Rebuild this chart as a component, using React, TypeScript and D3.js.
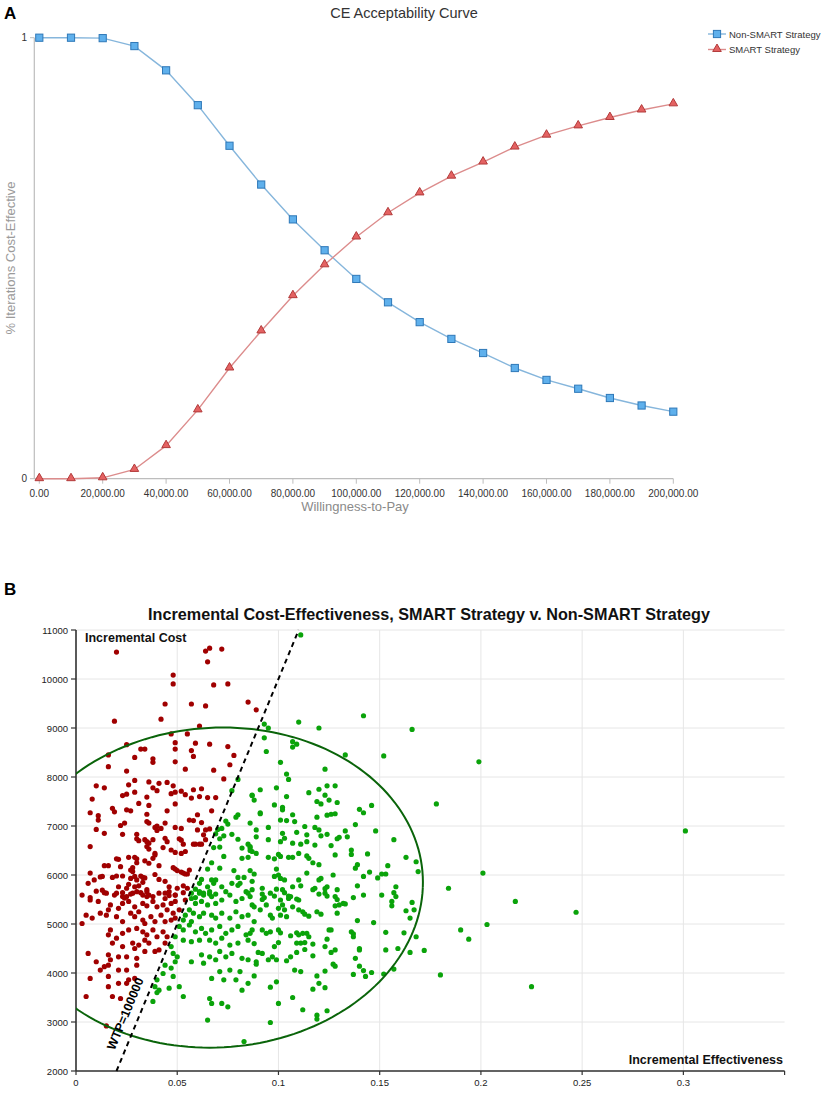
import React from 'react';
import * as d3 from 'd3';

// ---------- Panel A data ----------
const WTP_VALUES = [0, 10000, 20000, 30000, 40000, 50000, 60000, 70000, 80000, 90000, 100000, 110000, 120000, 130000, 140000, 150000, 160000, 170000, 180000, 190000, 200000];
const NON_SMART = [1.0, 1.0, 0.999, 0.981, 0.926, 0.847, 0.755, 0.667, 0.588, 0.518, 0.453, 0.400, 0.355, 0.317, 0.285, 0.251, 0.224, 0.204, 0.183, 0.166, 0.152];
const SMART = [0.0, 0.0, 0.002, 0.021, 0.075, 0.156, 0.251, 0.335, 0.415, 0.485, 0.548, 0.603, 0.648, 0.686, 0.718, 0.752, 0.779, 0.800, 0.819, 0.836, 0.850];
const X_TICKS_A = [0, 20000, 40000, 60000, 80000, 100000, 120000, 140000, 160000, 180000, 200000];
const Y_TICKS_A = [0, 1];
const SERIES_NAMES = ['Non-SMART Strategy', 'SMART Strategy'];

// ---------- Panel B data ----------
const X_TICKS_B = [0, 0.05, 0.1, 0.15, 0.2, 0.25, 0.3];
const Y_TICKS_B = [2000, 3000, 4000, 5000, 6000, 7000, 8000, 9000, 10000, 11000];
const WTP_THRESHOLD = 100000;
const ELLIPSE_CENTER = [0.0693, 5743];
const ELLIPSE_RADII = [0.102, 3267];
const ELLIPSE_SKEW = 0.0033;

const RED_POINTS: [number, number][] = [
  [0.020,10550],[0.019,9140],[0.042,9180],[0.044,9490],[0.048,10080],[0.048,9900],[0.047,8880],[0.055,8880],[0.057,9490],[0.061,9040],[0.064,9450],[0.064,10570],[0.066,10630],[0.065,10350],[0.068,9880],[0.072,10610],[0.075,9900],[0.085,9530],[0.089,9370],
  [0.016,8450],[0.068,8140],[0.073,7960],
  [0.025,8660],[0.032,8570],[0.034,8570],[0.029,8400],[0.038,8370],[0.038,8300],[0.016,8210],[0.025,8120],[0.049,8700],[0.049,8570],[0.049,8310],[0.054,8160],[0.057,8540],[0.058,8420],[0.059,8690],[0.066,8670],[0.075,8620],[0.078,8440],[0.076,8250],
  [0.010,7820],[0.014,7780],[0.026,7840],[0.029,7930],[0.036,7900],[0.038,7780],[0.041,7870],[0.045,7890],[0.048,7820],[0.049,7690],[0.047,7660],[0.040,7720],[0.035,7590],[0.029,7690],[0.025,7650],[0.023,7620],[0.008,7550],[0.007,7270],[0.011,7210],[0.011,7120],[0.018,7360],[0.019,7290],[0.025,7330],[0.027,7310],[0.031,7460],[0.035,7240],[0.036,7420],[0.045,7310],[0.049,7450],[0.052,7710],[0.054,7640],[0.057,7570],[0.058,7740],[0.062,7760],[0.061,7600],[0.065,7580],[0.067,7310],[0.069,7580],
  [0.010,6930],[0.022,7010],[0.024,7060],[0.035,7090],[0.036,7060],[0.039,6970],[0.040,7000],[0.040,6910],[0.042,6950],[0.044,7060],[0.049,6970],[0.052,6950],[0.056,7120],[0.058,7110],[0.060,7230],[0.062,7070],[0.060,6920],[0.064,6920],[0.066,6940],[0.014,6850],[0.023,6830],[0.030,6830],[0.030,6740],[0.031,6700],[0.034,6720],[0.035,6680],[0.036,6650],[0.038,6720],[0.044,6750],[0.045,6680],[0.043,6560],[0.051,6740],[0.052,6710],[0.053,6630],[0.047,6510],[0.049,6460],[0.052,6440],[0.054,6480],[0.058,6630],[0.059,6630],[0.061,6630],[0.062,6630],[0.064,6720],[0.063,6820],
  [0.007,6580],[0.035,6580],[0.036,6530],[0.039,6440],[0.038,6340],[0.039,6410],[0.041,6190],[0.036,6240],[0.034,6290],[0.029,6360],[0.030,6330],[0.030,6250],[0.026,6360],[0.020,6330],[0.021,6320],[0.014,6190],[0.016,6190],[0.022,6170],[0.028,6150],[0.028,6070],[0.029,5970],[0.030,5900],[0.027,5930],[0.027,6100],[0.032,5980],[0.033,5950],[0.034,5940],[0.033,5850],[0.031,5780],[0.029,5760],[0.026,5810],[0.025,5730],[0.023,5980],[0.020,5980],[0.018,5950],[0.021,5760],[0.019,5590],[0.012,5960],[0.013,5970],[0.009,5900],[0.007,6040],[0.006,5830],[0.003,5590],[0.007,5540],[0.014,5640],[0.015,5630],[0.023,5560],[0.024,5530],[0.027,5610],[0.028,5630],[0.032,5640],[0.035,5700],[0.035,5560],[0.036,5590],[0.039,6010],[0.041,5910],[0.044,5870],[0.046,5760],[0.048,6150],[0.049,6120],[0.050,6090],[0.052,6060],[0.053,6040],[0.054,6020],[0.056,6100],[0.055,6020],[0.044,5630],[0.046,5580],[0.049,5590],[0.050,5730],[0.053,5780],[0.055,5730],
  [0.010,5670],[0.013,5690],[0.020,5630],[0.023,5640],[0.025,5560],[0.030,5660],[0.033,5590],[0.035,5660],[0.038,5560],[0.041,5630],[0.044,5520],[0.046,5660],[0.049,5590],[0.053,5640],[0.007,5490],[0.011,5460],[0.017,5390],[0.016,5290],[0.021,5320],[0.023,5420],[0.026,5460],[0.029,5350],[0.033,5420],[0.035,5370],[0.038,5460],[0.040,5350],[0.043,5390],[0.045,5290],[0.047,5420],[0.049,5460],[0.054,5490],[0.051,5290],[0.048,5220],[0.049,5120],
  [0.003,5010],[0.005,5180],[0.008,5120],[0.012,5220],[0.015,5180],[0.020,5150],[0.023,5050],[0.027,5220],[0.029,5150],[0.031,5250],[0.033,5080],[0.034,5010],[0.037,5150],[0.039,5050],[0.042,5180],[0.044,5050],[0.047,5080],
  [0.017,4880],[0.016,4780],[0.020,4710],[0.023,4810],[0.026,4880],[0.030,4910],[0.033,4840],[0.035,4780],[0.038,4880],[0.040,4740],[0.043,4840],[0.045,4740],[0.044,4610],[0.018,4610],[0.023,4540],[0.028,4610],[0.029,4500],[0.031,4570],[0.034,4670],[0.036,4610],[0.039,4440],[0.041,4470],
  [0.006,4400],[0.010,4230],[0.016,4370],[0.017,4270],[0.021,4330],[0.025,4330],[0.030,4300],[0.030,4160],[0.034,4440],[0.012,4060],[0.014,4130],[0.016,4160],[0.021,4060],[0.016,3930],[0.025,4060],[0.026,3860],[0.029,3890],[0.007,3890],[0.005,3520],[0.016,3720],[0.021,3790],[0.018,3520],[0.022,3480],[0.025,3790],[0.015,2920],
];

const GREEN_POINTS: [number, number][] = [
  [0.080,7230],[0.079,7180],[0.070,6930],[0.072,6950],[0.074,7100],[0.075,7040],[0.069,6840],[0.071,6740],[0.073,6800],[0.077,6830],[0.080,6730],[0.082,6550],[0.085,6630],[0.086,6550],[0.068,6560],[0.071,6570],[0.073,6380],[0.082,6340],[0.087,6480],[0.085,6360],[0.067,6250],[0.065,6120],[0.071,6140],[0.078,6090],[0.086,6090],[0.083,5950],[0.080,5950],[0.077,5830],[0.080,5790],[0.067,5900],[0.069,5900],[0.068,5830],[0.062,5910],[0.061,5830],[0.065,5760],[0.059,5710],[0.061,5630],[0.063,5590],[0.066,5610],[0.069,5610],[0.072,5760],[0.074,5660],[0.081,5830],[0.084,5660],[0.086,5560],[0.057,5630],[0.059,5540],[0.077,7720],[0.080,7950],[0.087,7630],
  [0.061,5660],[0.063,5630],[0.066,5660],[0.067,5560],[0.057,5520],[0.059,5420],[0.062,5460],[0.065,5390],[0.069,5420],[0.072,5490],[0.076,5590],[0.079,5460],[0.082,5520],[0.085,5630],[0.087,5390],[0.056,5290],[0.058,5220],[0.054,5180],[0.053,5080],[0.057,5050],[0.061,5150],[0.063,5220],[0.067,5180],[0.069,5120],[0.072,5220],[0.076,5120],[0.079,5250],[0.082,5150],[0.085,5180],
  [0.051,4950],[0.053,4880],[0.056,4980],[0.059,4840],[0.062,4910],[0.064,4810],[0.067,4880],[0.071,4950],[0.074,4810],[0.077,4880],[0.080,4950],[0.084,4780],[0.087,4880],[0.049,4740],[0.053,4670],[0.057,4640],[0.061,4670],[0.066,4670],[0.069,4610],[0.072,4710],[0.076,4570],[0.080,4610],[0.085,4670],[0.047,4540],[0.048,4400],[0.050,4330],[0.057,4230],[0.062,4370],[0.066,4330],[0.069,4270],[0.071,4440],[0.074,4330],[0.077,4400],[0.082,4300],[0.085,4270],[0.049,4230],[0.044,4160],[0.047,4100],[0.043,3990],[0.040,3860],[0.039,3720],[0.041,3650],[0.046,3690],[0.048,3930],[0.051,3720],[0.053,3520],[0.063,4200],[0.071,4030],[0.076,4060],[0.081,4030],[0.067,3890],[0.073,3860],[0.079,3860],[0.085,3790],[0.082,3650],[0.066,3480],[0.067,3380],[0.072,3380],[0.075,3310],[0.038,3420],[0.065,3040],[0.083,2600],[0.040,3600],
  [0.107,8720],[0.109,8670],[0.107,8610],[0.094,8520],[0.133,8450],[0.152,8430],[0.101,8300],[0.123,8160],[0.104,8060],[0.105,7950],[0.091,7740],[0.099,7780],[0.087,7620],[0.088,7530],[0.104,7600],[0.115,7680],[0.120,7750],[0.124,7820],[0.128,7820],[0.123,7630],[0.125,7530],[0.119,7500],[0.121,7450],[0.129,7480],[0.098,7430],[0.102,7380],[0.102,7330],[0.091,7270],[0.091,7250],[0.107,7230],[0.104,7110],[0.101,7120],[0.108,7090],[0.119,7180],[0.124,7220],[0.126,7240],[0.128,7250],[0.140,7340],[0.142,7270],[0.146,7420],
  [0.086,7060],[0.095,6970],[0.089,6920],[0.089,6780],[0.102,6850],[0.109,6870],[0.113,6990],[0.118,6970],[0.120,6920],[0.114,6820],[0.124,6830],[0.121,6800],[0.129,6740],[0.130,6770],[0.133,6900],[0.134,6780],[0.138,7030],[0.148,6900],[0.157,6720],[0.095,6720],[0.101,6680],[0.103,6750],[0.107,6650],[0.111,6630],[0.114,6680],[0.118,6610],[0.126,6600],[0.086,6580],[0.086,6500],[0.089,6440],[0.095,6360],[0.098,6330],[0.100,6420],[0.101,6380],[0.105,6360],[0.107,6360],[0.110,6440],[0.114,6390],[0.115,6340],[0.120,6210],[0.117,6250],[0.128,6410],[0.136,6510],[0.136,6420],[0.144,6430],[0.163,6360],[0.168,6270],[0.139,6210],[0.138,6140],[0.154,6190],
  [0.088,6020],[0.087,5870],[0.098,5970],[0.099,6120],[0.100,6000],[0.101,5930],[0.103,5900],[0.110,5900],[0.114,6040],[0.120,5900],[0.121,5930],[0.124,5760],[0.123,5720],[0.127,6000],[0.142,5970],[0.145,6060],[0.149,5940],[0.151,6020],[0.153,6020],[0.169,6070],[0.092,5730],[0.099,5710],[0.102,5700],[0.107,5760],[0.111,5780],[0.117,5700],[0.118,5730],[0.123,5630],[0.129,5700],[0.139,5780],[0.158,5760],[0.087,5700],[0.092,5610],[0.096,5630],[0.098,5570],[0.103,5640],[0.105,5570],[0.106,5560],[0.109,5510],[0.120,5610],[0.128,5560],[0.137,5540],[0.142,5590],[0.151,5590],[0.157,5640],[0.158,5560],
  [0.093,5540],[0.092,5500],[0.094,5390],[0.105,5520],[0.101,5490],[0.102,5390],[0.100,5320],[0.103,5290],[0.101,5180],[0.104,5150],[0.107,5350],[0.110,5490],[0.110,5290],[0.112,5250],[0.113,5200],[0.115,5160],[0.119,5250],[0.121,5200],[0.124,5570],[0.129,5500],[0.128,5370],[0.130,5390],[0.132,5420],[0.133,5410],[0.129,5220],[0.139,5070],[0.147,5030],[0.156,5460],[0.156,5370],[0.163,5270],[0.166,5440],[0.167,5290],[0.165,5120],[0.088,5350],[0.091,5290],[0.096,5180],[0.088,5050],[0.097,5120],
  [0.096,4840],[0.100,4880],[0.101,4820],[0.092,4880],[0.094,4810],[0.086,4810],[0.109,4820],[0.110,4780],[0.112,4810],[0.114,4810],[0.115,4740],[0.111,4610],[0.113,4620],[0.106,4760],[0.109,4610],[0.100,4620],[0.098,4540],[0.088,4600],[0.090,4420],[0.092,4400],[0.089,4230],[0.089,4180],[0.095,4270],[0.097,4330],[0.099,4270],[0.104,4250],[0.106,4330],[0.109,4420],[0.113,4480],[0.117,4590],[0.117,4350],[0.123,4540],[0.124,4690],[0.125,4880],[0.126,4880],[0.128,4470],[0.126,4420],[0.127,4180],[0.128,4140],[0.136,4840],[0.137,4800],[0.137,4740],[0.140,4470],[0.140,4500],[0.138,4300],[0.140,4140],[0.142,4050],[0.143,3930],[0.146,4010],[0.137,3970],[0.153,4830],[0.153,4470],[0.159,4500],[0.162,4820],[0.165,4420],[0.168,4740],[0.172,4460],[0.152,3980],[0.157,4080],
  [0.108,4060],[0.111,4030],[0.119,3940],[0.123,4040],[0.120,3790],[0.123,3700],[0.117,3670],[0.099,3820],[0.096,3710],[0.088,3940],[0.100,3380],[0.107,3500],[0.112,3250],[0.119,3140],[0.119,3060],[0.124,3230],[0.096,2990],
  [0.301,6900],[0.199,8310],[0.166,8970],[0.142,9250],[0.178,7450],[0.184,5730],[0.201,6040],[0.217,5460],[0.247,5240],[0.190,4880],[0.194,4690],[0.203,4990],[0.180,3960],[0.225,3720],[0.093,9080],[0.095,9000],[0.093,8800],[0.110,9120],[0.120,9000],[0.111,10900],
];

const FONT = "'Liberation Sans', Arial, Helvetica, sans-serif";

function PanelA() {
  const xA = d3.scaleLinear().domain([0, 200000]).range([39.3, 673.3]);
  const yA = d3.scaleLinear().domain([0, 1]).range([478.7, 37.7]);
  const line = d3.line<number>().x((_, i) => xA(WTP_VALUES[i])).y((d) => yA(d));
  const fmt = d3.format(',.2f');
  const tri = d3.symbol(d3.symbolTriangle, 32)() as string;
  const blueLine = '#86b6dc';
  const blueFill = '#5fb0ec';
  const blueStroke = '#2e78b8';
  const redLine = '#dc8c8c';
  const redFill = '#e46262';
  const redStroke = '#b23a3a';
  const axisColor = '#bdbdbd';
  return (
    <g fontFamily={FONT}>
      <text x={4} y={19} fontSize={17} fontWeight="bold" fill="#000">A</text>
      <text x={404} y={18} fontSize={14.5} textAnchor="middle" fill="#333">CE Acceptability Curve</text>
      <line x1={34.3} x2={34.3} y1={yA(1)} y2={yA(0)} stroke={axisColor} strokeWidth={1.2} />
      <line x1={34.3} x2={xA(200000)} y1={yA(0)} y2={yA(0)} stroke={axisColor} strokeWidth={1.2} />
      {Y_TICKS_A.map((t) => (
        <g key={t}>
          <line x1={30} x2={34.3} y1={yA(t)} y2={yA(t)} stroke={axisColor} />
          <text x={27} y={yA(t) + 3.5} fontSize={10} textAnchor="end" fill="#333">{t}</text>
        </g>
      ))}
      {X_TICKS_A.map((t) => (
        <g key={t}>
          <line x1={xA(t)} x2={xA(t)} y1={yA(0)} y2={yA(0) + 5} stroke={axisColor} />
          <text x={xA(t)} y={497} fontSize={10} textAnchor="middle" fill="#333">{fmt(t)}</text>
        </g>
      ))}
      <text x={355} y={511} fontSize={13} textAnchor="middle" fill="#8a8a8a">Willingness-to-Pay</text>
      <text transform={`translate(15,258) rotate(-90)`} fontSize={13} textAnchor="middle" fill="#9a9a9a">% Iterations Cost-Effective</text>
      <path d={line(NON_SMART) as string} fill="none" stroke={blueLine} strokeWidth={1.4} />
      <path d={line(SMART) as string} fill="none" stroke={redLine} strokeWidth={1.4} />
      {NON_SMART.map((v, i) => (
        <rect key={'b' + i} x={xA(WTP_VALUES[i]) - 3.6} y={yA(v) - 3.6} width={7.2} height={7.2} fill={blueFill} stroke={blueStroke} strokeWidth={1} />
      ))}
      {SMART.map((v, i) => (
        <path key={'r' + i} d={tri} transform={`translate(${xA(WTP_VALUES[i])},${yA(v) - 0.5})`} fill={redFill} stroke={redStroke} strokeWidth={1} />
      ))}
      <g>
        <line x1={708} x2={726} y1={34} y2={34} stroke={blueLine} strokeWidth={1.4} />
        <rect x={713.4} y={30.4} width={7.2} height={7.2} fill={blueFill} stroke={blueStroke} />
        <text x={729} y={37.5} fontSize={9.5} fill="#333">{SERIES_NAMES[0]}</text>
        <line x1={708} x2={726} y1={49.5} y2={49.5} stroke={redLine} strokeWidth={1.4} />
        <path d={tri} transform="translate(717,49)" fill={redFill} stroke={redStroke} />
        <text x={729} y={53} fontSize={9.5} fill="#333">{SERIES_NAMES[1]}</text>
      </g>
    </g>
  );
}

function PanelB() {
  const xB = d3.scaleLinear().domain([0, 0.35]).range([76, 784.6]);
  const yB = d3.scaleLinear().domain([2000, 11000]).range([1071, 630]);
  const [x0, x1] = xB.range();
  const [yb, yt] = yB.range();
  const ellipsePts: [number, number][] = d3.range(0, 361, 2).map((deg) => {
    const t = (deg * Math.PI) / 180;
    return [
      ELLIPSE_CENTER[0] + ELLIPSE_RADII[0] * Math.cos(t) + ELLIPSE_SKEW * Math.sin(t),
      ELLIPSE_CENTER[1] + ELLIPSE_RADII[1] * Math.sin(t),
    ];
  });
  const ellipsePath = d3.line<[number, number]>().x((d) => xB(d[0])).y((d) => yB(d[1]))(ellipsePts) as string;
  const wtpStart: [number, number] = [2000 / WTP_THRESHOLD, 2000];
  const wtpEnd: [number, number] = [11000 / WTP_THRESHOLD, 11000];
  const ang = (Math.atan2(yB(wtpEnd[1]) - yB(wtpStart[1]), xB(wtpEnd[0]) - xB(wtpStart[0])) * 180) / Math.PI;
  const labelAnchor = [xB(0.0248), yB(3163)];
  const red = '#a00000';
  const green = '#0aa30a';
  const r = 2.6;
  return (
    <g fontFamily={FONT}>
      <defs>
        <clipPath id="plotB">
          <rect x={x0} y={yt} width={x1 - x0} height={yb - yt} />
        </clipPath>
      </defs>
      <text x={4} y={595} fontSize={17} fontWeight="bold" fill="#000">B</text>
      <text x={429} y={620} fontSize={16.2} fontWeight="bold" textAnchor="middle" fill="#111">Incremental Cost-Effectiveness, SMART Strategy v. Non-SMART Strategy</text>
      {Y_TICKS_B.map((t) => (
        <line key={'gy' + t} x1={x0} x2={x1} y1={yB(t)} y2={yB(t)} stroke="#e6e6e6" strokeWidth={1} />
      ))}
      {X_TICKS_B.map((t) => (
        <line key={'gx' + t} x1={xB(t)} x2={xB(t)} y1={yt} y2={yb} stroke="#e6e6e6" strokeWidth={1} />
      ))}
      <line x1={x0} x2={x0} y1={yt} y2={yb} stroke="#333" strokeWidth={1.6} />
      <line x1={x0} x2={x1} y1={yb} y2={yb} stroke="#333" strokeWidth={1.6} />
      <line x1={x1} x2={x1} y1={yb} y2={yb + 4} stroke="#333" strokeWidth={1.2} />
      {Y_TICKS_B.map((t) => (
        <g key={'ty' + t}>
          <line x1={x0 - 5} x2={x0} y1={yB(t)} y2={yB(t)} stroke="#333" strokeWidth={1.2} />
          <text x={x0 - 8} y={yB(t) + 3.5} fontSize={9.5} textAnchor="end" fill="#222">{t}</text>
        </g>
      ))}
      {X_TICKS_B.map((t) => (
        <g key={'tx' + t}>
          <line x1={xB(t)} x2={xB(t)} y1={yb} y2={yb + 4} stroke="#333" strokeWidth={1.2} />
          <text x={xB(t)} y={yb + 15} fontSize={9.5} textAnchor="middle" fill="#222">{String(t)}</text>
        </g>
      ))}
      {RED_POINTS.map((p, i) => (
        <circle key={'r' + i} cx={xB(p[0])} cy={yB(p[1])} r={r} fill={red} />
      ))}
      {GREEN_POINTS.map((p, i) => (
        <circle key={'g' + i} cx={xB(p[0])} cy={yB(p[1])} r={r} fill={green} />
      ))}
      <path d={ellipsePath} fill="none" stroke="#0a640a" strokeWidth={2} clipPath="url(#plotB)" />
      <line x1={xB(wtpStart[0])} y1={yB(wtpStart[1])} x2={xB(wtpEnd[0])} y2={yB(wtpEnd[1])} stroke="#000" strokeWidth={2} strokeDasharray="5,4" />
      <text transform={`translate(${labelAnchor[0]},${labelAnchor[1]}) rotate(${ang})`} fontSize={12.5} fontWeight="bold" textAnchor="middle" dominantBaseline="middle" fill="#000">WTP=100000</text>
      <text x={x0 + 9} y={642} fontSize={12.5} fontWeight="bold" fill="#111">Incremental Cost</text>
      <text x={783} y={1064} fontSize={12.5} fontWeight="bold" textAnchor="end" fill="#111">Incremental Effectiveness</text>
    </g>
  );
}

export default function App() {
  return (
    <svg width={829} height={1097} viewBox="0 0 829 1097" style={{ position: 'absolute', left: 0, top: 0, background: '#fff' }}>
      <rect x={0} y={0} width={829} height={1097} fill="#fff" />
      <PanelA />
      <PanelB />
    </svg>
  );
}
